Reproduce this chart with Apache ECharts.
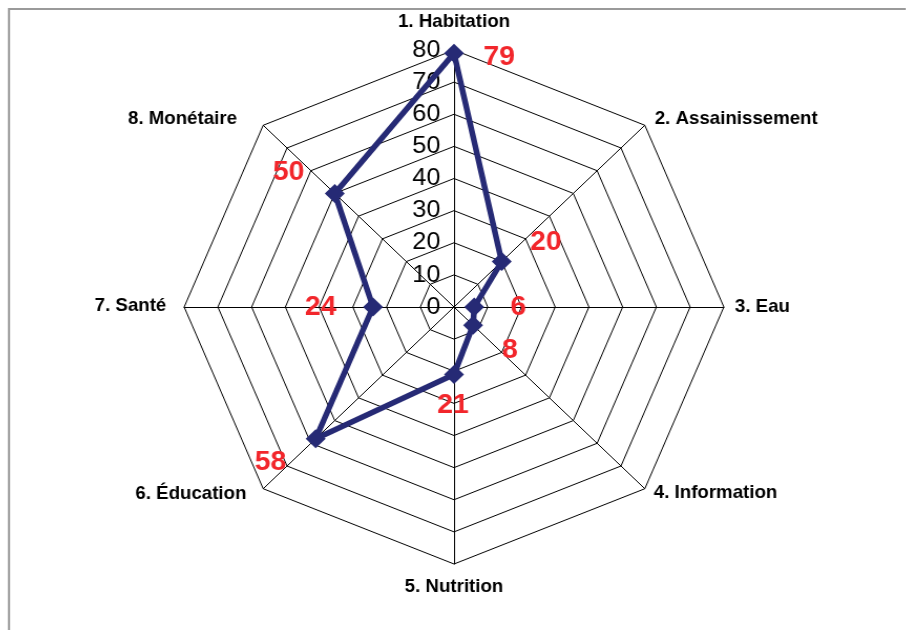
<!DOCTYPE html>
<html>
<head>
<meta charset="utf-8">
<script src="https://cdn.jsdelivr.net/npm/echarts@6/dist/echarts.min.js"></script>
<style>
  html, body { margin: 0; padding: 0; background: #fff; overflow: hidden; }
  /* the original web is a touch wider than tall, so stretch the canvas sideways */
  #chart-container { width: 906px; height: 630px; transform: scaleX(1.05); transform-origin: 454px 0; }
</style>
</head>
<body>
<div id="chart-container"></div>
<script>
// dimensions, clockwise from the top
const categories = ['1. Habitation', '2. Assainissement', '3. Eau', '4. Information',
  '5. Nutrition', '6. Éducation', '7. Santé', '8. Monétaire'];
const values = [79, 20, 6, 8, 21, 58, 24, 50];
const scaleTicks = [0, 10, 20, 30, 40, 50, 60, 70, 80];
const scaleMax = 80;

// label placement (px, before the sideways stretch)
const valueOffsets = [[43, 4], [42, -19], [42, 1], [35, 25], [-1, 31], [-43, 24], [-50, 1], [-44, -21]];
const nameOffsets = [[0, -28], [9.5, -6], [10.5, 0], [8.6, 4], [0, 23], [-16, 5], [-17, -1], [-25, -6]];
const nameAlign = ['center', 'left', 'left', 'left', 'center', 'right', 'right', 'right'];

const font = "'Liberation Sans', Arial, sans-serif";
const navy = '#262a75';
const red = '#f2262b';
const sx = 1.05;
const cx = 454, cy = 307, R = 257;

// radar indicators run counterclockwise, so feed them reversed after the first
const order = [0, 7, 6, 5, 4, 3, 2, 1];

const chartContainer = document.getElementById('chart-container');
const chart = echarts.init(chartContainer);

// undo the stretch for the frame
const fx = x => cx + (x - cx) / sx;

const option = {
  animation: false,
  backgroundColor: '#fff',
  textStyle: { fontFamily: font },
  graphic: [{
    type: 'polyline',
    shape: { points: [[fx(9), 630], [fx(9), 9], [fx(906), 9]] },
    style: { stroke: '#9a9a9a', lineWidth: 2, fill: null },
    silent: true
  }],
  radar: {
    center: [cx, cy],
    radius: R,
    startAngle: 90,
    splitNumber: 8,
    shape: 'polygon',
    indicator: order.map(i => ({ name: categories[i], min: 0, max: scaleMax })),
    axisName: { show: false },
    axisLine: { lineStyle: { color: '#000', width: 1 } },
    splitLine: { lineStyle: { color: '#000', width: 1 } },
    splitArea: { show: false },
    axisTick: { show: false },
    axisLabel: { show: false }
  },
  polar: { center: [cx, cy], radius: R },
  angleAxis: {
    type: 'category',
    data: categories,
    boundaryGap: false,
    startAngle: 90,
    clockwise: true,
    show: false
  },
  radiusAxis: { min: 0, max: scaleMax, show: false },
  grid: { left: cx, top: cy - R, width: 1, height: R },
  xAxis: { type: 'value', show: false },
  yAxis: {
    type: 'value',
    min: scaleTicks[0],
    max: scaleTicks[scaleTicks.length - 1],
    interval: scaleTicks[1] - scaleTicks[0],
    axisLine: { show: false },
    axisTick: { show: false },
    splitLine: { show: false },
    axisLabel: { color: '#000', fontSize: 24, fontFamily: font, margin: 13 }
  },
  series: [{
    type: 'radar',
    symbol: 'diamond',
    symbolSize: 19,
    lineStyle: { color: navy, width: 5.5 },
    itemStyle: { color: navy },
    data: [{ value: order.map(i => values[i]) }]
  }, {
    // red value labels
    type: 'scatter',
    coordinateSystem: 'polar',
    symbolSize: 0,
    silent: true,
    itemStyle: { opacity: 1 },
    data: values.map((v, i) => ({
      value: [v, categories[i]],
      label: {
        show: true,
        position: 'inside',
        offset: valueOffsets[i],
        formatter: String(v),
        color: red,
        fontWeight: 'bold',
        fontSize: 27,
        fontFamily: font
      }
    }))
  }, {
    // dimension names at the outer ring
    type: 'scatter',
    coordinateSystem: 'polar',
    symbolSize: 0,
    silent: true,
    itemStyle: { opacity: 1 },
    data: categories.map((c, i) => ({
      value: [scaleMax, c],
      label: {
        show: true,
        position: 'inside',
        offset: nameOffsets[i],
        align: nameAlign[i],
        verticalAlign: 'middle',
        formatter: c,
        color: '#000',
        fontWeight: 'bold',
        fontSize: 17.8,
        fontFamily: font
      }
    }))
  }]
};

chart.setOption(option);
</script>
</body>
</html>
